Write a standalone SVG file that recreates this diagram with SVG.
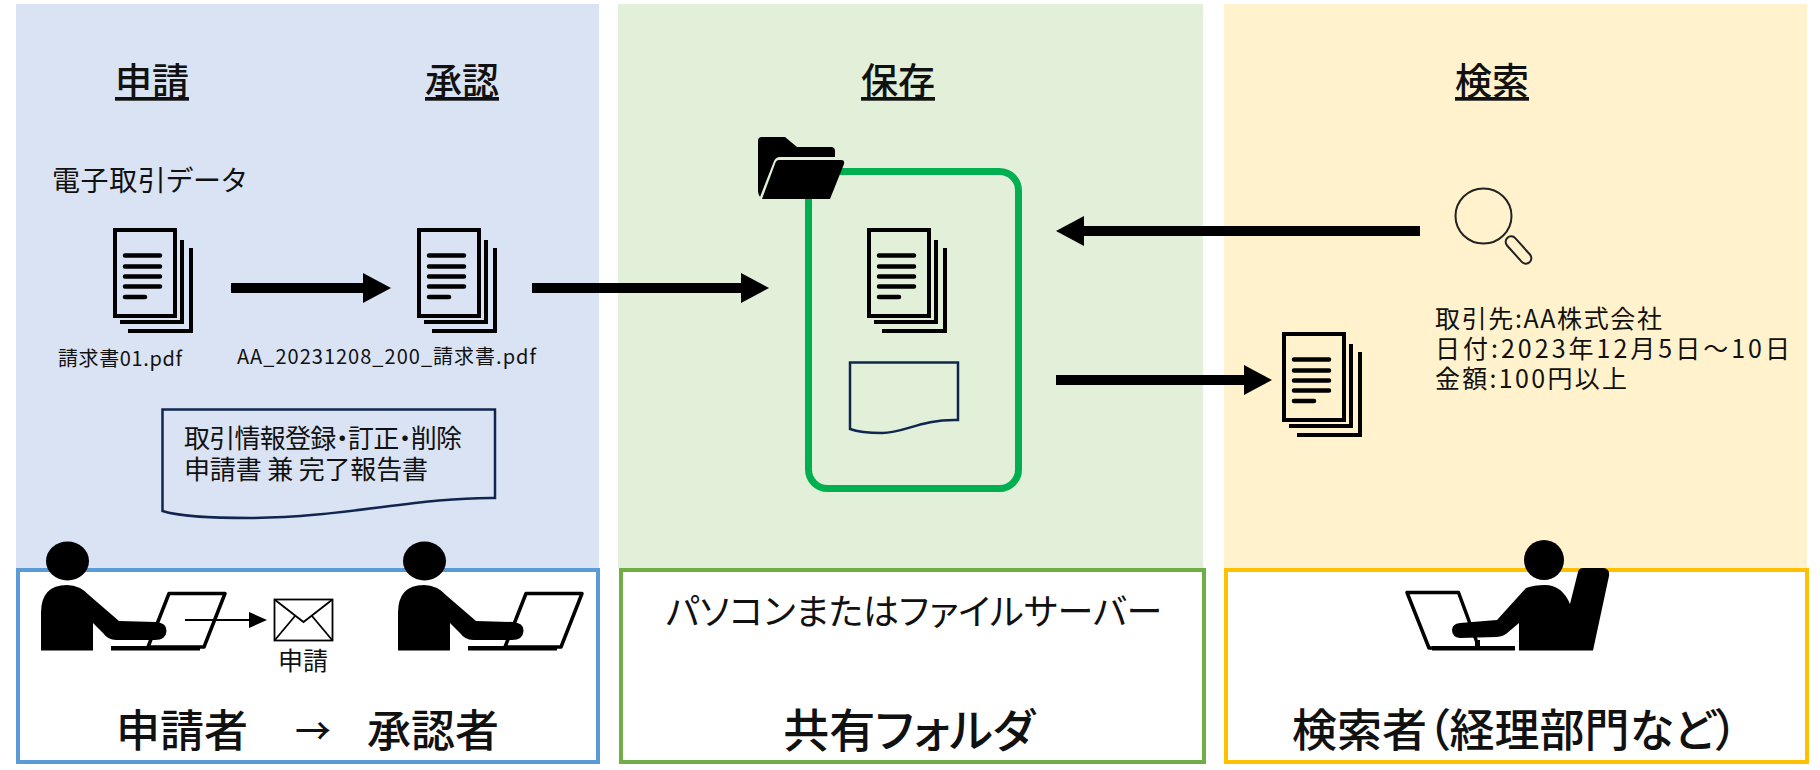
<svg xmlns="http://www.w3.org/2000/svg" width="1820" height="770" viewBox="0 0 1820 770">
<style>
text{font-family:"Noto Sans CJK JP","Noto Sans",sans-serif;fill:#111;font-feature-settings:"palt"}
.h{font-size:37px;font-weight:500;text-anchor:middle;text-decoration:underline}
.b{font-size:45px;font-weight:500;text-anchor:middle}
.m{font-size:26px}
.s{font-size:20px}
.page{fill:none;stroke:#000;stroke-width:4}
.ln{stroke:#000;stroke-linecap:round}
.con{stroke:#000;stroke-width:10;fill:none;marker-end:url(#ah)}
.doc{fill:none;stroke:#10264f;stroke-width:2.5}
.scr{fill:#fff;stroke:#000;stroke-width:3.5;stroke-linejoin:round}
</style>
<defs>
<marker id="ah" viewBox="0 0 28 30" refX="0" refY="15" markerWidth="28" markerHeight="30" markerUnits="userSpaceOnUse" orient="auto"><path d="M0 0L28 15L0 30Z" fill="#000"/></marker>
<marker id="ahs" viewBox="0 0 18 16" refX="0" refY="8" markerWidth="18" markerHeight="16" markerUnits="userSpaceOnUse" orient="auto"><path d="M0 0L18 8L0 16Z" fill="#000"/></marker>
<g id="stack">
<rect class="page" x="2" y="2" width="60" height="86"/>
<path class="page" d="M7 94H69V12"/>
<path class="page" d="M15 103H78V20"/>
<path class="ln" stroke-width="4.500" d="M12 27.500H47M12 38.500H47M12 48.500H47M12 58.500H47M12 69H32"/>
</g>
<g id="worker">
<polygon class="scr" points="169,593.500 225,593.500 204,647 148,647"/>
<rect x="111" y="646" width="89" height="4.500" fill="#000"/>
<ellipse cx="67.500" cy="561" rx="21.500" ry="19.500" fill="#000"/>
<path fill="#000" d="M41 650.500V613Q41 585 67 585Q80 585 90 596L119 621L156 622Q167 623 166.500 631Q166 640 155 640L116 640Q108 640 103 633L93 623V650.500Z"/>
</g>
</defs>
<rect width="1820" height="770" fill="#fff"/>
<g id="panel-apply">
<rect x="16" y="4" width="583" height="564" fill="#DAE3F3"/>
<text class="h" x="152" y="95">申請</text>
<text class="h" x="462" y="95">承認</text>
<text class="m" x="52" y="191" textLength="194" style="font-size:28px">電子取引データ</text>
<use href="#stack" x="113" y="228"/>
<use href="#stack" x="417" y="228"/>
<text class="s" x="58" y="366" textLength="124">請求書01.pdf</text>
<text class="s" x="237" y="364" textLength="299">AA_20231208_200_請求書.pdf</text>
</g>
<g id="panel-store">
<rect x="618" y="4" width="585" height="564" fill="#E2F0D9"/>
<text class="h" x="898" y="95">保存</text>
</g>
<g id="panel-search">
<rect x="1224" y="4" width="583" height="564" fill="#FFF2CC"/>
<text class="h" x="1492" y="95">検索</text>
</g>
<g id="form-apply">
<path class="doc" d="M162.500 409.500H495V498C420 497 340 518 250 518C212 518 182 517 162.500 511Z"/>
<text class="m" x="184" y="448" textLength="278">取引情報登録・訂正・削除</text>
<text class="m" x="184" y="479" textLength="244">申請書 兼 完了報告書</text>
</g>
<g id="box-apply">
<rect x="18" y="570" width="580" height="192" fill="#fff" stroke="#5B9BD5" stroke-width="4"/>
<text class="b" x="116" y="747" style="text-anchor:start;font-size:44px">申請者<tspan x="295" style="font-size:36px" dy="-2">→</tspan><tspan x="367" dy="2">承認者</tspan></text>
</g>
<g id="box-store">
<rect x="621" y="570" width="583" height="192" fill="#fff" stroke="#70AD47" stroke-width="4"/>
<text x="914" y="625" style="font-size:36px;text-anchor:middle">パソコンまたはファイルサーバー</text>
<text class="b" x="909" y="747" style="font-size:46px">共有フォルダ</text>
</g>
<g id="box-search">
<rect x="1226" y="570" width="581" height="192" fill="#fff" stroke="#FFC000" stroke-width="4"/>
<text class="b" x="1515" y="747" textLength="446">検索者（経理部門など）</text>
</g>
<g id="person-applicant"><use href="#worker"/></g>
<g id="person-approver"><use href="#worker" x="357"/></g>
<g id="envelope">
<rect x="274.500" y="599.500" width="58" height="41" fill="#fff" stroke="#000" stroke-width="1.800"/>
<path fill="none" stroke="#000" stroke-width="1.800" d="M274.500 599.500L303.500 622L332.500 599.500M274.500 640.500L295 616M332.500 640.500L312 616"/>
<text x="303" y="670" style="font-size:25px;text-anchor:middle">申請</text>
</g>
<g id="person-searcher">
<polygon class="scr" points="1407,592.500 1458.500,592.500 1479,648 1429,648"/>
<rect x="1432" y="646" width="83" height="4.500" fill="#000"/>
<rect x="1475" y="640" width="5" height="9" fill="#000"/>
<ellipse cx="1544" cy="560" rx="20" ry="20" fill="#000"/>
<path fill="#000" d="M1545 585Q1562 585 1570 604L1578 572Q1579 568 1583 568H1604Q1610 569 1609 576L1593 650.500H1519V623L1506 634Q1502 637 1497 637L1460 638Q1452 637 1452 630Q1452 624 1460 623L1497 620L1526 588Q1534 585 1545 585Z"/>
</g>
<g id="shared-folder">
<rect x="808.500" y="171.500" width="210" height="317" rx="19" fill="none" stroke="#00B050" stroke-width="7"/>
<path fill="#000" d="M758 141Q758 137 762 137H785L797 147H831Q835 147 835 151V157H780Q776 157 774 161L760 197Q758 194 758 191Z"/>
<path fill="#000" d="M779 160H841Q845 160 844 164L830 199H762L775 164Q776 160 779 160Z"/>
<use href="#stack" x="867" y="228"/>
<path class="doc" stroke-width="2" d="M850 362.500H958V420C920 419 905 433 882 433C868 433 858 432 850 429Z"/>
</g>
<g id="search-icon">
<ellipse cx="1483.500" cy="216" rx="28" ry="27.500" fill="none" stroke="#222" stroke-width="2"/>
<rect x="1502" y="244.500" width="33" height="11" rx="5.500" fill="none" stroke="#222" stroke-width="2" transform="rotate(48 1518.500 250)"/>
<text class="m" x="1435" y="328" textLength="227" style="font-size:25px">取引先:AA株式会社</text>
<text class="m" x="1435" y="358" textLength="355" style="font-size:25px">日付:2023年12月5日～10日</text>
<text class="m" x="1435" y="388" textLength="192" style="font-size:25px">金額:100円以上</text>
</g>
<g id="result-docs"><use href="#stack" x="1282" y="332"/></g>
<g id="connectors">
<line class="con" x1="231" y1="288" x2="363" y2="288"/>
<line class="con" x1="532" y1="288" x2="741" y2="288"/>
<line class="con" x1="1420" y1="231" x2="1084" y2="231"/>
<line class="con" x1="1056" y1="380" x2="1244" y2="380"/>
<line x1="185" y1="620" x2="249" y2="620" stroke="#000" stroke-width="1.800" marker-end="url(#ahs)"/>
</g>
</svg>
